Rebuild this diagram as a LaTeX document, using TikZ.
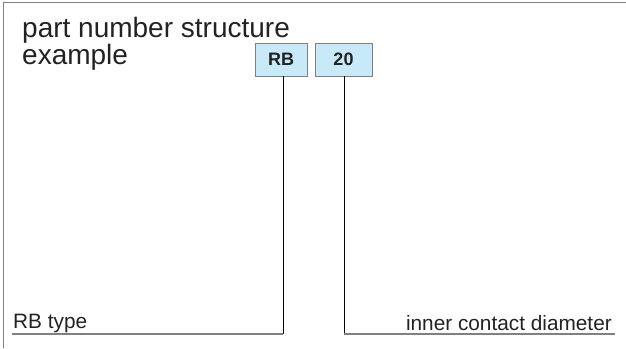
\documentclass[tikz,border=0pt]{standalone}
\usepackage{fontspec}
\setmainfont{Liberation Sans}
\definecolor{boxfill}{HTML}{C8EAF8}
\definecolor{frame}{HTML}{808080}
\definecolor{txt}{HTML}{222222}
\begin{document}
\begin{tikzpicture}[x=1pt,y=-1pt,
  partbox/.style={draw=frame,fill=boxfill,line width=0.9pt,inner sep=0pt,font=\fontsize{18}{18}\selectfont\bfseries,text=txt},
  lbl/.style={inner sep=0pt,text=txt},
  title/.style={lbl,anchor=north west,align=left,font=\fontsize{28}{24.5}\selectfont},
  lead/.style={draw=black,line width=0.8pt},
  base/.style={draw=frame,line width=1.2pt}]
\useasboundingbox (0,0) rectangle (626,348);
\draw[frame,line width=1.2pt] (3.5,348) -- (3.5,2.5) -- (626,2.5);
\node[title] (t1) at (22,16.6) {part number structure\\example};
\node[partbox,minimum width=52pt,minimum height=33pt] (rb) at (281,59.5) {RB};
\node[partbox,minimum width=57pt,minimum height=33pt] (n20) at (343.5,59.5) {20};
\node[lbl,anchor=base west,font=\fontsize{20.8}{20.8}\selectfont] (l1) at (13,328) {RB type};
\node[lbl,anchor=base east,font=\fontsize{20.8}{20.8}\selectfont] (l2) at (612,330) {inner contact diameter};
\coordinate (c1) at (283,334);
\coordinate (c1e) at (12,334);
\coordinate (c2) at (344,334);
\coordinate (c2e) at (615,334);
\draw[lead] (rb.south -| c1) -- (c1);
\draw[lead] (n20.south -| c2) -- (c2);
\draw[base] (c1e) -- (c1);
\draw[base] (c2) -- (c2e);
\end{tikzpicture}
\end{document}
